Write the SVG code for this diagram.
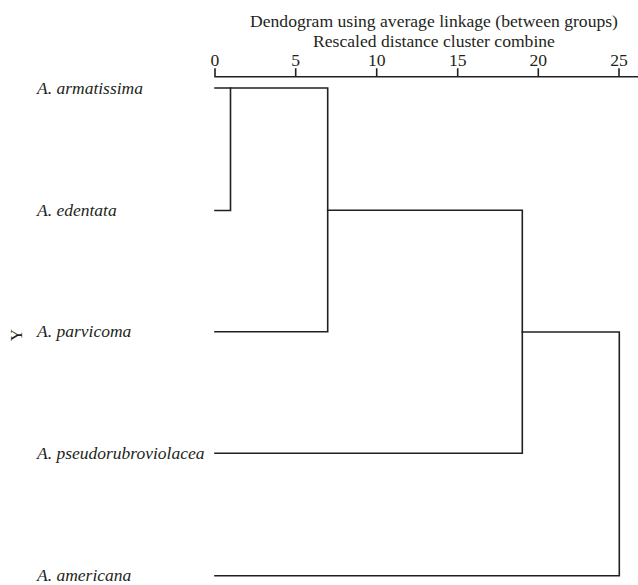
<svg xmlns="http://www.w3.org/2000/svg" width="638" height="585" viewBox="0 0 638 585">
<style>
text{font-family:"Liberation Serif","Times New Roman",serif;fill:#231f20}
.t{font-size:17.6px;text-anchor:middle}
.n{font-size:17.6px;text-anchor:middle}
.lab{font-size:17.5px;font-style:italic}
.ln{fill:none;stroke:#231f20;stroke-width:1.6;stroke-linecap:square}
</style>
<rect width="638" height="585" fill="#fff"/>
<g id="title">
<text class="t" x="434" y="27">Dendogram using average linkage (between groups)</text>
<text class="t" x="434" y="46.5">Rescaled distance cluster combine</text>
</g>
<g id="axis">
<text class="n" x="215" y="65.5">0</text>
<text class="n" x="295.7" y="65.5">5</text>
<text class="n" x="376.7" y="65.5">10</text>
<text class="n" x="457.7" y="65.5">15</text>
<text class="n" x="538.3" y="65.5">20</text>
<text class="n" x="619" y="65.5">25</text>
<path class="ln" d="M215,69V76.7M295.7,69V76.7M376.7,69V76.7M457.7,69V76.7M538.3,69V76.7M619,69V76.7M215,76.7H638"/>
</g>
<g id="yaxis">
<text x="16" y="335" font-size="17" text-anchor="middle" dominant-baseline="central" transform="rotate(-90 16 335)">Y</text>
</g>
<g id="leaf-armatissima"><text class="lab" x="37" y="93.5">A. armatissima</text></g>
<g id="leaf-edentata"><text class="lab" x="37" y="215.5">A. edentata</text></g>
<g id="leaf-parvicoma"><text class="lab" x="37" y="337">A. parvicoma</text></g>
<g id="leaf-pseudorubroviolacea"><text class="lab" x="37" y="459">A. pseudorubroviolacea</text></g>
<g id="leaf-americana"><text class="lab" x="37" y="581">A. americana</text></g>
<g id="connectors">
<path class="ln" d="M215,88H230.5V210.5H215"/>
<path class="ln" d="M230.5,88H327.7V331.7H215"/>
<path class="ln" d="M327.7,210.3H522.3V453.3H215"/>
<path class="ln" d="M522.3,332H619.3V575.7H215"/>
</g>
</svg>
